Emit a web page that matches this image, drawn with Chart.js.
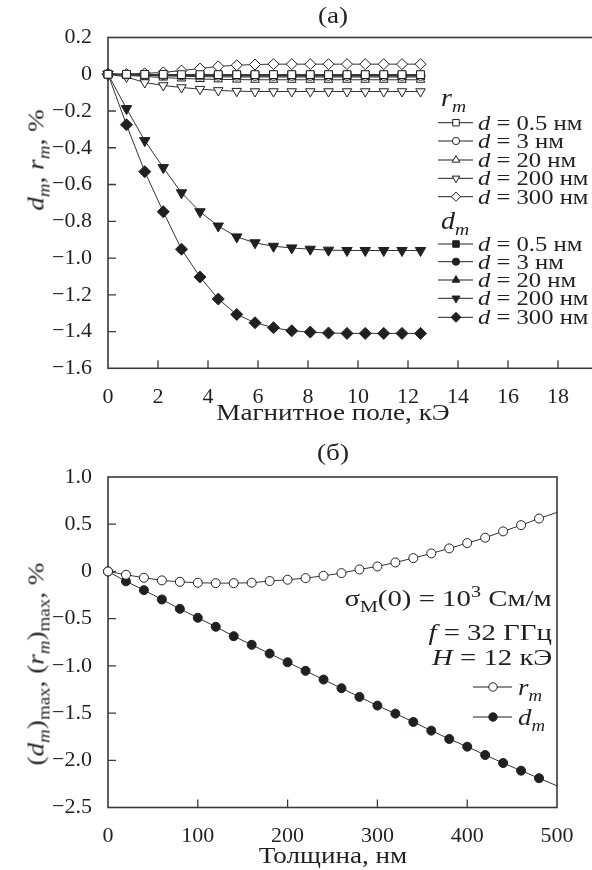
<!DOCTYPE html>
<html><head><meta charset="utf-8">
<script src="https://cdn.jsdelivr.net/npm/chart.js@4.4.0/dist/chart.umd.min.js"></script>
<style>
html,body{margin:0;padding:0;background:#fff;overflow:hidden;width:592px;height:870px;}
#wrap{position:relative;width:592px;height:870px;overflow:hidden;font-family:'Liberation Serif','Times New Roman',serif;color:#231f20;}
canvas{position:absolute;left:0;}
#c1{top:0;}
#c2{top:430px;}
.t{position:absolute;white-space:nowrap;font-size:22px;line-height:1;}
.c{transform:translate(-50%,-50%) scaleX(1.18);}
.v{transform:translate(-50%,-50%) rotate(-90deg) scaleX(1.18);}
.m{transform:translateY(-50%) scaleX(1.12);transform-origin:left center;}
.r{transform:translateY(-50%) scaleX(1.2);transform-origin:right center;font-size:24px;}
.i{font-style:italic;}
sub,sup{font-size:70%;line-height:0;}
</style></head><body>
<div id="wrap">
<canvas id="c1" width="620" height="430"></canvas>
<canvas id="c2" width="592" height="440"></canvas>
<div class="t c" style="left:333px;top:15px;font-size:23px">(a)</div>
<div class="t c" style="left:333px;top:412px;font-size:23px">Магнитное поле, кЭ</div>
<div class="t v" style="left:36px;top:160px;font-size:23px"><span class="i">d<sub>m</sub></span>, <span class="i">r<sub>m</sub></span>, %</div>
<div id="legTop"></div>
<div class="t c" style="left:333px;top:452px;font-size:23px">(б)</div>
<div class="t c" style="left:333px;top:855px;font-size:23px">Толщина, нм</div>
<div class="t v" style="left:36px;top:664px;font-size:23px">(<span class="i">d<sub>m</sub></span>)<sub>max</sub>, (<span class="i">r<sub>m</sub></span>)<sub>max</sub>, %</div>
<div class="t r" style="right:40px;top:598px">σ<sub>M</sub>(0) = 10<sup>3</sup> См/м</div>
<div class="t r" style="right:40px;top:632px"><span class="i">f</span> = 32 ГГц</div>
<div class="t r" style="right:40px;top:657px"><span class="i">H</span> = 12 кЭ</div>
<div class="t m" style="left:518px;top:687px;font-size:24px"><span class="i">r<sub>m</sub></span></div>
<div class="t m" style="left:518px;top:717px;font-size:24px"><span class="i">d<sub>m</sub></span></div>
</div>
<script>
// ---------- data: panel (a) ----------
const fieldKOe = [0, 0.74, 1.47, 2.21, 2.94, 3.68, 4.41, 5.15, 5.88, 6.62, 7.35, 8.09, 8.82, 9.56, 10.29, 11.03, 11.76, 12.5];
const thicknessLabels = ['0.5', '3', '20', '200', '300'];
const rm05  = [0, 0.000, -0.001, -0.001, -0.002, -0.002, -0.002, -0.002, -0.002, -0.002, -0.002, -0.002, -0.002, -0.002, -0.002, -0.002, -0.002, -0.002];
const rm3   = [0, -0.002, -0.004, -0.006, -0.007, -0.008, -0.009, -0.009, -0.010, -0.010, -0.010, -0.010, -0.010, -0.010, -0.010, -0.010, -0.010, -0.010];
const rm20  = [0, -0.006, -0.012, -0.018, -0.023, -0.026, -0.028, -0.029, -0.030, -0.030, -0.030, -0.030, -0.030, -0.030, -0.030, -0.030, -0.030, -0.030];
const rm200 = [0, -0.015, -0.045, -0.061, -0.072, -0.081, -0.088, -0.092, -0.094, -0.094, -0.094, -0.094, -0.094, -0.094, -0.094, -0.094, -0.094, -0.094];
const rm300 = [0, 0.001, 0.005, 0.010, 0.020, 0.031, 0.043, 0.049, 0.053, 0.055, 0.055, 0.055, 0.055, 0.055, 0.055, 0.055, 0.055, 0.055];
const dm05  = [0, -0.001, -0.002, -0.003, -0.003, -0.004, -0.004, -0.004, -0.004, -0.004, -0.004, -0.004, -0.004, -0.004, -0.004, -0.004, -0.004, -0.004];
const dm3   = [0, -0.002, -0.003, -0.004, -0.005, -0.006, -0.006, -0.007, -0.007, -0.007, -0.007, -0.007, -0.007, -0.007, -0.007, -0.007, -0.007, -0.007];
const dm20  = [0, -0.003, -0.006, -0.009, -0.011, -0.013, -0.014, -0.015, -0.015, -0.015, -0.015, -0.015, -0.015, -0.015, -0.015, -0.015, -0.015, -0.015];
const dm200 = [0, -0.187, -0.361, -0.508, -0.645, -0.748, -0.826, -0.885, -0.917, -0.936, -0.945, -0.952, -0.957, -0.959, -0.959, -0.959, -0.959, -0.959];
const dm300 = [0, -0.275, -0.530, -0.748, -0.952, -1.103, -1.223, -1.307, -1.352, -1.379, -1.396, -1.403, -1.408, -1.410, -1.410, -1.410, -1.410, -1.410];

// ---------- data: panel (б) ----------
const thicknessNm = [0, 20, 40, 60, 80, 100, 120, 140, 160, 180, 200, 220, 240, 260, 280, 300, 320, 340, 360, 380, 400, 420, 440, 460, 480, 500];
const rmMax = [0, -0.035, -0.067, -0.095, -0.110, -0.120, -0.124, -0.124, -0.120, -0.102, -0.088, -0.071, -0.046, -0.018, 0.021, 0.053, 0.095, 0.141, 0.191, 0.244, 0.300, 0.357, 0.424, 0.490, 0.560, 0.625];
const dmMax = [0, -0.105, -0.198, -0.297, -0.396, -0.491, -0.586, -0.686, -0.777, -0.870, -0.962, -1.053, -1.145, -1.237, -1.329, -1.421, -1.506, -1.594, -1.686, -1.774, -1.856, -1.944, -2.029, -2.110, -2.190, -2.270];

const INK = '#231f20';
const AXIS = '#3a3a3a';
const TICK = 8;
const FONT = {family: "'Liberation Serif','Times New Roman',serif", size: 22};

function fmt(v, dec) {
  if (Math.abs(v) < 1e-9) return '0';
  return v.toFixed(dec).replace('-', '\u2212');
}
function pts(xs, ys) { return xs.map((x, i) => ({x: x, y: ys[i]})); }

function mark(ctx, style, x, y, r, rot, filled) {
  ctx.save();
  ctx.fillStyle = filled ? INK : '#fff';
  ctx.strokeStyle = INK;
  ctx.lineWidth = 1;
  Chart.helpers.drawPoint(ctx, {pointStyle: style, radius: r, rotation: rot || 0, borderWidth: 1}, x, y);
  ctx.restore();
}

const framePlugin = {
  id: 'frame',
  beforeDatasetsDraw(chart) {
    const {ctx, chartArea: a, scales} = chart;
    ctx.save();
    ctx.strokeStyle = AXIS;
    ctx.lineWidth = 1.6;
    ctx.strokeRect(a.left, a.top, a.right - a.left, a.bottom - a.top);
    ctx.lineWidth = 1.3;
    ctx.beginPath();
    scales.x.ticks.forEach((t, i) => {
      const p = scales.x.getPixelForTick(i);
      if (p > a.left + 2 && p < a.right - 2) { ctx.moveTo(p, a.bottom); ctx.lineTo(p, a.bottom - TICK); }
    });
    scales.y.ticks.forEach((t, i) => {
      const p = scales.y.getPixelForTick(i);
      if (p > a.top + 2 && p < a.bottom - 2) { ctx.moveTo(a.left, p); ctx.lineTo(a.left + TICK, p); }
    });
    ctx.stroke();
    ctx.restore();
  }
};

function legendPlugin(rows, x0, x1, xm) {
  return {
    id: 'legendMarks',
    afterDraw(chart) {
      const ctx = chart.ctx;
      chart.data.datasets.forEach((ds, i) => {
        const y = rows[i];
        ctx.save();
        ctx.strokeStyle = INK;
        ctx.lineWidth = 1;
        ctx.beginPath(); ctx.moveTo(x0, y); ctx.lineTo(x1, y); ctx.stroke();
        ctx.restore();
        mark(ctx, ds.pointStyle, xm, y, ds.legendRadius, ds.pointRotation, ds.filled);
      });
    }
  };
}

function series(label, xs, ys, style, r, rot, filled, lr) {
  return {
    label: label, data: pts(xs, ys), showLine: true,
    borderColor: '#333', borderWidth: 1,
    pointStyle: style, pointRotation: rot || 0, pointRadius: r,
    pointBorderWidth: 1, pointBorderColor: INK,
    pointBackgroundColor: filled ? INK : '#fff',
    filled: filled, legendRadius: lr,
    clip: false
  };
}

function scaleOpts(min, max, step, dec, extra, hideAbove) {
  return Object.assign({
    type: 'linear', min: min, max: max,
    ticks: {stepSize: step, font: FONT, color: INK, padding: 8, autoSkip: false, maxRotation: 0,
            callback: (v) => (hideAbove !== undefined && v > hideAbove ? '' : fmt(v, dec))},
    grid: {display: false},
    border: {display: false}
  }, extra);
}

// ---------- chart (a) ----------
const rmSets = [
  series('r_m d=0.5', fieldKOe, rm05, 'rect', 5.5, 0, false, 4.6),
  series('r_m d=3', fieldKOe, rm3, 'circle', 4.2, 0, false, 3.6),
  series('r_m d=20', fieldKOe, rm20, 'triangle', 5, 0, false, 4.4),
  series('r_m d=200', fieldKOe, rm200, 'triangle', 5.5, 180, false, 4.4),
  series('r_m d=300', fieldKOe, rm300, 'rectRot', 5.5, 0, false, 4.6)
];
const dmSets = [
  series('d_m d=0.5', fieldKOe, dm05, 'rect', 5.5, 0, true, 4.6),
  series('d_m d=3', fieldKOe, dm3, 'circle', 4.5, 0, true, 3.6),
  series('d_m d=20', fieldKOe, dm20, 'triangle', 5, 0, true, 4.4),
  series('d_m d=200', fieldKOe, dm200, 'triangle', 6, 180, true, 4.6),
  series('d_m d=300', fieldKOe, dm300, 'rectRot', 6, 0, true, 5)
];

const legRowsTop = [122.7, 141, 160, 178.3, 196.7, 244, 261.7, 280, 298.3, 317.3];

new Chart(document.getElementById('c1'), {
  type: 'scatter',
  data: {datasets: rmSets.concat(dmSets)},
  options: {
    responsive: false, animation: false, devicePixelRatio: 1,
    layout: {padding: {top: 37.5, left: 0, right: 12, bottom: 0}},
    plugins: {legend: {display: false}, tooltip: {enabled: false}},
    scales: {
      x: scaleOpts(0, 20, 2, 0, {afterFit: (s) => { s.height = 430 - 368.3; }}, 18),
      y: scaleOpts(-1.6, 0.2, 0.2, 1, {afterFit: (s) => { s.width = 108; }})
    }
  },
  plugins: [framePlugin, legendPlugin(legRowsTop, 438, 473, 456)]
});

// legend text (a)
(function () {
  const box = document.getElementById('legTop');
  let html = '<div class="t m" style="left:441px;top:97px;font-size:25px"><span class="i">r<sub>m</sub></span></div>';
  html += '<div class="t m" style="left:441px;top:220px;font-size:25px"><span class="i">d<sub>m</sub></span></div>';
  legRowsTop.forEach((y, i) => {
    const lab = thicknessLabels[i % thicknessLabels.length];
    html += '<div class="t m" style="left:478px;top:' + y + 'px;font-size:22px"><span class="i">d</span> = ' + lab + ' нм</div>';
  });
  box.innerHTML = html;
})();

// ---------- chart (б) ----------
const lastIdx = thicknessNm.length - 1;
const setsB = [
  series('r_m', thicknessNm, rmMax, 'circle', 4.5, 0, false, 4.2),
  series('d_m', thicknessNm, dmMax, 'circle', 4.5, 0, true, 4.2)
];
setsB.forEach((s) => { s.pointRadius = (c) => (c.dataIndex === lastIdx ? 0 : 4.5); });

new Chart(document.getElementById('c2'), {
  type: 'scatter',
  data: {datasets: setsB},
  options: {
    responsive: false, animation: false, devicePixelRatio: 1,
    layout: {padding: {top: 47, left: 0, right: 35, bottom: 0}},
    plugins: {legend: {display: false}, tooltip: {enabled: false}},
    scales: {
      x: scaleOpts(0, 500, 100, 0, {afterFit: (s) => { s.height = 440 - 377.5; }}),
      y: scaleOpts(-2.5, 1.0, 0.5, 1, {afterFit: (s) => { s.width = 108; }})
    }
  },
  plugins: [framePlugin, legendPlugin([257, 287], 473, 512, 493)]
});
</script>
</body></html>
